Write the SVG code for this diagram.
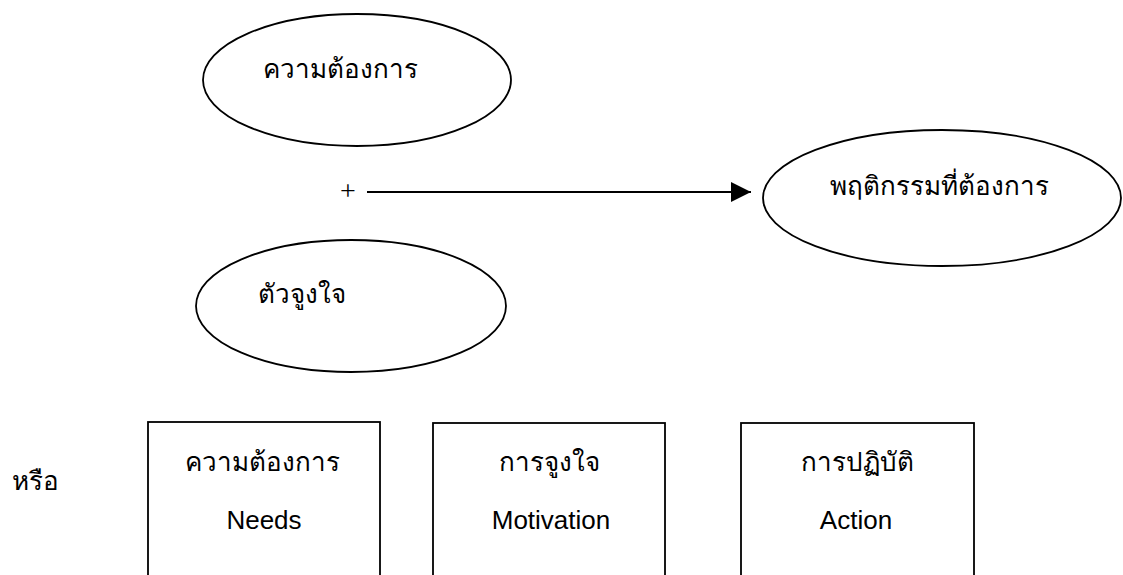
<svg xmlns="http://www.w3.org/2000/svg" width="1123" height="575" viewBox="0 0 1123 575">
  <style>
    .shape { fill: #ffffff; stroke: #000000; stroke-width: 1.8; }
    .th { font-family: "Noto Sans", "DejaVu Sans", sans-serif; font-size: 26px; fill: #000000; }
    .en { font-family: "Liberation Sans", Arial, sans-serif; font-size: 26px; fill: #000000; }
    .conn { stroke: #000000; stroke-width: 2; fill: none; }
  </style>
  <defs>
    <marker id="arrow" viewBox="0 0 20 20" refX="20" refY="10" markerWidth="20" markerHeight="20" markerUnits="userSpaceOnUse" orient="auto">
      <path d="M0,0 L20,10 L0,20 Z" fill="#000000"/>
    </marker>
  </defs>
  <rect width="1123" height="575" fill="#ffffff"/>

  <g id="node-needs-ellipse">
    <ellipse class="shape" cx="357" cy="80" rx="154" ry="66"/>
    <text class="th" x="263" y="78">ความต้องการ</text>
  </g>
  <g id="node-incentive-ellipse">
    <ellipse class="shape" cx="351" cy="306" rx="155" ry="66"/>
    <text class="th" x="258" y="303">ตัวจูงใจ</text>
  </g>
  <g id="node-behavior-ellipse">
    <ellipse class="shape" cx="942" cy="198" rx="179" ry="68"/>
    <text class="th" x="830" y="195">พฤติกรรมที่ต้องการ</text>
  </g>
  <g id="plus-sign">
    <text x="348" y="200" text-anchor="middle" font-family="Liberation Serif, serif" font-size="28" fill="#000000">+</text>
  </g>

  <g id="connectors">
    <line class="conn" x1="367" y1="192" x2="751" y2="192" marker-end="url(#arrow)"/>
  </g>

  <g id="label-or">
    <text class="th" x="12" y="490">หรือ</text>
  </g>
  <g id="node-needs-box">
    <rect class="shape" x="148" y="422" width="232" height="170"/>
    <text class="th" x="262" y="471" text-anchor="middle">ความต้องการ</text>
    <text class="en" x="264" y="529" text-anchor="middle">Needs</text>
  </g>
  <g id="node-motivation-box">
    <rect class="shape" x="433" y="423" width="232" height="170"/>
    <text class="th" x="549" y="471" text-anchor="middle">การจูงใจ</text>
    <text class="en" x="551" y="529" text-anchor="middle">Motivation</text>
  </g>
  <g id="node-action-box">
    <rect class="shape" x="741" y="423" width="233" height="170"/>
    <text class="th" x="857" y="471" text-anchor="middle">การปฏิบัติ</text>
    <text class="en" x="856" y="529" text-anchor="middle">Action</text>
  </g>
</svg>
